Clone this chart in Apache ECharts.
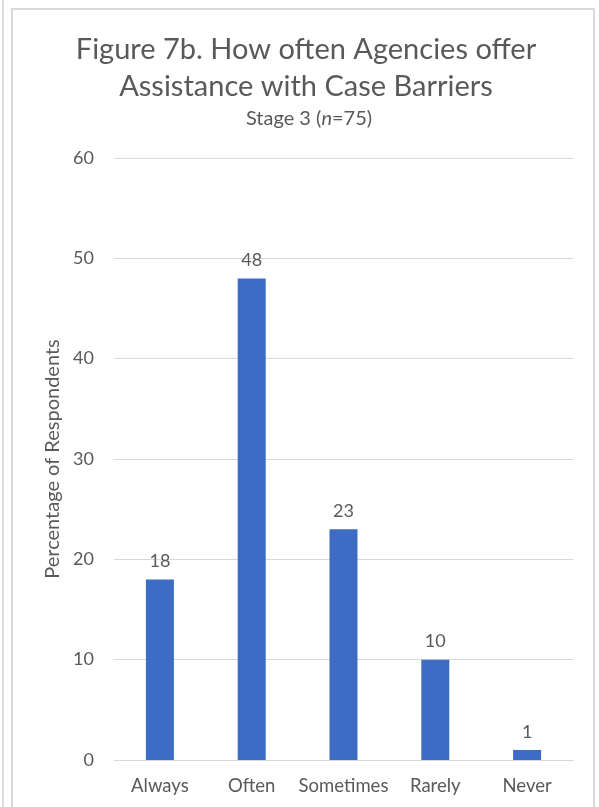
<!DOCTYPE html>
<html>
<head>
<meta charset="utf-8">
<script src="https://cdn.jsdelivr.net/npm/echarts@6/dist/echarts.min.js"></script>
<style>
  html, body { margin: 0; padding: 0; background: #fff; }
  #wrap { position: relative; width: 599px; height: 807px; overflow: hidden; }
  #edge { position: absolute; left: 2px; top: 0; width: 2px; height: 807px; background: #dcdcdc; }
  #frame { position: absolute; left: 11px; top: 8px; width: 584px; height: 810px;
           border: 2px solid #dadada; box-sizing: border-box; }
  #chart { position: absolute; left: 0; top: 0; width: 599px; height: 807px; }
</style>
</head>
<body>
<div id="wrap">
  <div id="edge"></div>
  <div id="frame"></div>
  <div id="chart"></div>
</div>
<script>
// Responses to "How often do agencies offer assistance with case barriers?"
const categories = ['Always', 'Often', 'Sometimes', 'Rarely', 'Never'];
const percentages = [18, 48, 23, 10, 1];
const yTicks = [0, 10, 20, 30, 40, 50, 60];

const textColor = '#595959';
const fontFamily = 'Lato, "Open Sans", sans-serif';

const chart = echarts.init(document.getElementById('chart'), null, { renderer: 'canvas' });

chart.setOption({
  backgroundColor: 'transparent',
  animation: false,
  textStyle: { fontFamily: fontFamily },
  title: [
    {
      text: 'Figure 7b. How often Agencies offer\nAssistance with Case Barriers',
      left: 301,
      textAlign: 'center',
      top: 26,
      textStyle: {
        fontFamily: fontFamily,
        fontSize: 29,
        fontWeight: 'normal',
        color: textColor,
        lineHeight: 37
      }
    },
    {
      text: '{a|Stage 3 (}{i|n}{a|=75)}',
      left: 304,
      textAlign: 'center',
      top: 104,
      textStyle: {
        fontWeight: 'normal',
        rich: {
          a: { fontFamily: fontFamily, fontSize: 20, color: textColor, fontWeight: 'normal' },
          i: { fontFamily: fontFamily, fontSize: 20, color: textColor, fontWeight: 'normal', fontStyle: 'italic' }
        }
      }
    }
  ],
  grid: { left: 114, right: 26, top: 158, bottom: 47, containLabel: false },
  xAxis: {
    type: 'category',
    data: categories,
    axisLine: { lineStyle: { color: '#d9d9d9', width: 1 } },
    axisTick: { show: false },
    axisLabel: { interval: 0, color: textColor, fontSize: 18.5, margin: 17, fontFamily: fontFamily }
  },
  yAxis: {
    type: 'value',
    min: yTicks[0],
    max: yTicks[yTicks.length - 1],
    interval: yTicks[1] - yTicks[0],
    name: 'Percentage of Respondents',
    nameLocation: 'middle',
    nameGap: 47,
    nameTextStyle: { color: textColor, fontSize: 20, fontFamily: fontFamily },
    axisLine: { show: false },
    axisTick: { show: false },
    axisLabel: { color: textColor, fontSize: 18, margin: 20, fontFamily: fontFamily },
    splitLine: { lineStyle: { color: '#d9d9d9', width: 1 } }
  },
  series: [
    {
      type: 'bar',
      data: percentages,
      barWidth: 28,
      itemStyle: { color: '#3d6cc4' },
      label: {
        show: true,
        position: 'top',
        distance: 9,
        color: textColor,
        fontSize: 18,
        fontFamily: fontFamily
      }
    }
  ]
});
</script>
</body>
</html>
